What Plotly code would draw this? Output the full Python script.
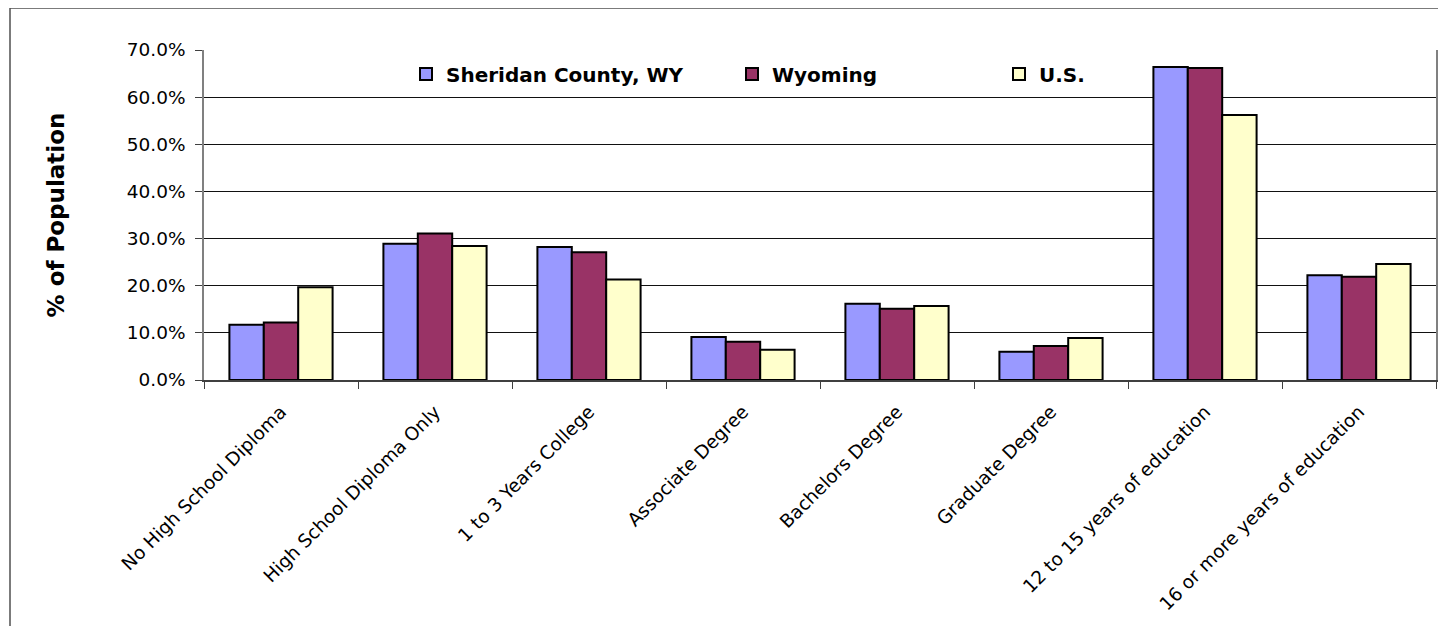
import plotly.graph_objects as go

categories = ["No High School Diploma", "High School Diploma Only", "1 to 3 Years College",
              "Associate Degree", "Bachelors Degree", "Graduate Degree",
              "12 to 15 years of education", "16 or more years of education"]
series_names = ["Sheridan County, WY", "Wyoming", "U.S."]
sheridan = [11.7, 28.9, 28.2, 9.1, 16.2, 6.0, 66.4, 22.2]
wyoming = [12.2, 31.1, 27.1, 8.1, 15.1, 7.2, 66.2, 21.9]
us = [19.7, 28.4, 21.3, 6.4, 15.7, 8.9, 56.2, 24.6]
y_ticks = [0, 10, 20, 30, 40, 50, 60, 70]

colors = ["#9999FF", "#993366", "#FFFFCC"]
FONT = "DejaVu Sans"

fig = go.Figure()
legend_ids = ["legend", "legend2", "legend3"]
for name, vals, col, lg in zip(series_names, [sheridan, wyoming, us], colors, legend_ids):
    fig.add_trace(go.Bar(
        x=categories, y=[v / 100 for v in vals], name=name,
        marker=dict(color=col, line=dict(color="black", width=2)),
        legend=lg, showlegend=True,
    ))

# page has an 8px body margin; positions below are in screen pixels
OFF = 8
W, H = 1446, 626
L, R, T, B = 196, 18, 42, 254
pw = W - L - R
ph = H - T - B

def px_x(x):
    return (x - OFF - L) / pw

def px_y(y):
    return (H - B - (y - OFF)) / ph

legfont = dict(family=FONT, size=20, color="black", weight="bold")
leg_common = dict(font=legfont, bgcolor="rgba(0,0,0,0)", borderwidth=0,
                  yanchor="middle", xanchor="left", orientation="h",
                  itemclick=False, itemdoubleclick=False)

fig.update_layout(
    width=W, height=H, showlegend=True,
    margin=dict(l=L, r=R, t=T, b=B, autoexpand=False),
    paper_bgcolor="white", plot_bgcolor="white",
    barmode="group", bargap=0.33, bargroupgap=0,
    font=dict(family=FONT, size=18, color="black"),
    legend=dict(x=px_x(406), y=px_y(74), **leg_common),
    legend2=dict(x=px_x(732), y=px_y(74), **leg_common),
    legend3=dict(x=px_x(999), y=px_y(74), **leg_common),
    xaxis=dict(
        type="category", tickson="boundaries", ticks="outside", ticklen=7,
        tickcolor="#404040", tickwidth=1, tickangle=-45,
        showline=True, linecolor="#404040", linewidth=1.5,
        showgrid=False, tickfont=dict(family=FONT, size=18.5, color="black"),
        ticklabelstandoff=12,
        automargin=False,
    ),
    yaxis=dict(
        range=[0, 0.70], tickvals=[v / 100 for v in y_ticks], tickformat=".1%",
        ticks="outside", ticklen=7, tickcolor="#404040",
        showline=True, linecolor="#808080", linewidth=1.5, mirror=True,
        showgrid=True, gridcolor="#111111", gridwidth=1,
        tickfont=dict(family=FONT, size=18.5, color="black"),
        ticklabelstandoff=6,
        title=dict(text="% of Population", font=dict(family=FONT, size=23, color="black", weight="bold"),
                   standoff=56),
        automargin=False,
    ),
    shapes=[dict(type="rect", xref="paper", yref="paper",
                 x0=px_x(10), x1=px_x(1470), y0=px_y(660), y1=px_y(8),
                 line=dict(color="#505050", width=1.5), fillcolor="rgba(0,0,0,0)", layer="below")],
)

fig.write_html("out.html")
